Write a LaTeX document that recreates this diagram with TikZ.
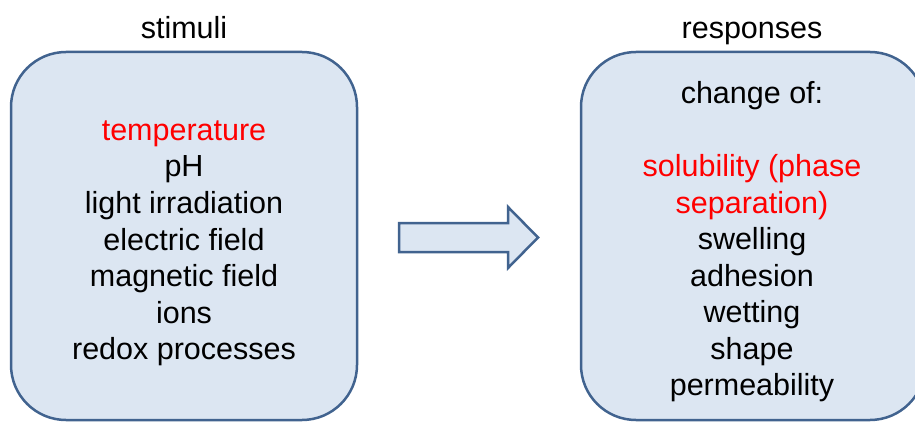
\documentclass[tikz,border=0pt]{standalone}
\usepackage{fontspec}
\setmainfont{Liberation Sans}
\usepackage{xcolor}
\definecolor{boxline}{HTML}{41638F}
\definecolor{boxfill}{HTML}{DCE6F2}
\definecolor{hot}{HTML}{FF0000}

\begin{document}
\begin{tikzpicture}[x=1pt,y=-1pt,
	panel/.style={draw=boxline,fill=boxfill,line width=2.5pt,rounded corners=55pt},
	txt/.style={anchor=base,inner sep=0pt,font=\fontsize{30.5}{36.5}\selectfont}]
\useasboundingbox (0,0) rectangle (915,422);
\clip (0,0) rectangle (915,422);
	%titres
	\node[txt] (T1) at (184,39) {stimuli};
	\node[txt] (T2) at (752,39) {responses};
	%boite de gauche
	\draw[panel] (11,52) rectangle (357,420);
	\node[txt,text=hot] (L1) at (184,140.5) {temperature};
	\node[txt] (L2) at (184,177) {pH};
	\node[txt] (L3) at (184,213.5) {light irradiation};
	\node[txt] (L4) at (184,250) {electric field};
	\node[txt] (L5) at (184,286.5) {magnetic field};
	\node[txt] (L6) at (184,323) {ions};
	\node[txt] (L7) at (184,359.5) {redox processes};
	%fleche
	\draw[draw=boxline,fill=boxfill,line width=2.5pt,line join=miter]
		(399,223) -- (508,223) -- (508,207) -- (538,237.5) -- (508,268) -- (508,252) -- (399,252) -- cycle;
	%boite de droite
	\draw[panel] (581,52) rectangle (925,420);
	\node[txt] (R1) at (752,103.5) {change of:};
	\node[txt,text=hot] (R2) at (752,176.5) {solubility (phase};
	\node[txt,text=hot] (R3) at (752,213) {separation)};
	\node[txt] (R4) at (752,249.5) {swelling};
	\node[txt] (R5) at (752,286) {adhesion};
	\node[txt] (R6) at (752,322.5) {wetting};
	\node[txt] (R7) at (752,359) {shape};
	\node[txt] (R8) at (752,395.5) {permeability};
\end{tikzpicture}
\end{document}
